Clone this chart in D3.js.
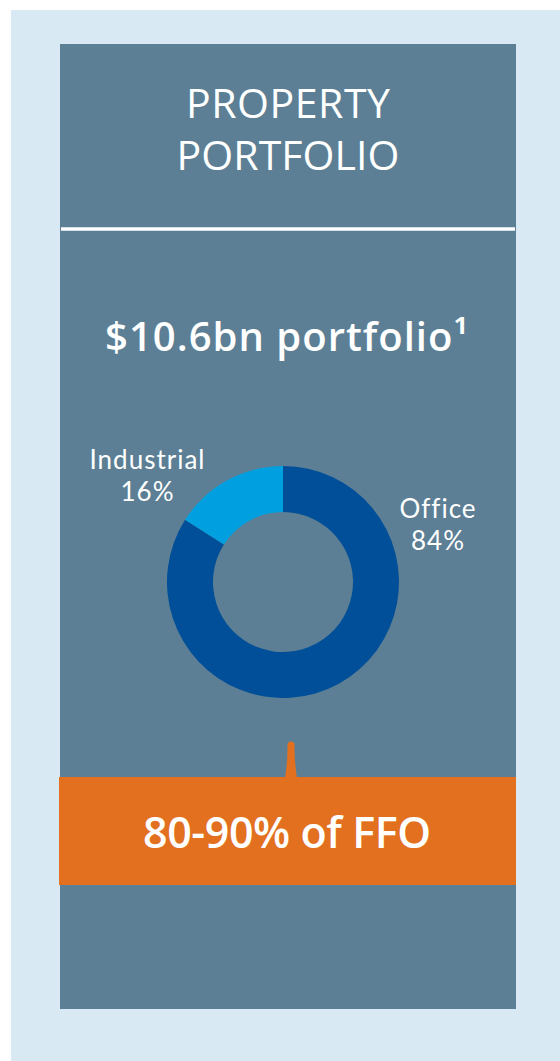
<!DOCTYPE html>
<html>
<head>
<meta charset="utf-8">
<script src="https://cdn.jsdelivr.net/npm/d3@7"></script>
<style>
  body { margin: 0; background: #ffffff; }
  svg text { font-family: "Open Sans", "Noto Sans", sans-serif; fill: #ffffff; }
  svg text.slice-label { font-family: Lato, "Open Sans", sans-serif; }
</style>
</head>
<body>
<svg id="chart"></svg>
<script>
// data
var categories = ["Office", "Industrial"];
var shares = [84, 16];
var shareLabels = ["84%", "16%"];
var titleLines = ["PROPERTY", "PORTFOLIO"];
var headline = "$10.6bn portfolio\u00b9";
var callout = "80-90% of FFO";

var width = 560, height = 1061;
var colors = d3.scaleOrdinal().domain(categories).range(["#004f98", "#009fdf"]);

var svg = d3.select("#chart").attr("width", width).attr("height", height);

// backgrounds
svg.append("rect").attr("x", 11).attr("y", 10).attr("width", width - 11).attr("height", height - 10)
  .attr("fill", "#d8e9f3");
var panel = {x: 60, y: 44, w: 456, h: 965};
svg.append("rect").attr("x", panel.x).attr("y", panel.y).attr("width", panel.w).attr("height", panel.h)
  .attr("fill", "#5c7f95");

// title
var titleWidths = [204, 223];
var title = svg.append("g");
title.selectAll("text").data(titleLines).enter().append("text")
  .attr("x", 288)
  .attr("y", (d, i) => 118 + i * 52)
  .attr("text-anchor", "middle")
  .attr("font-size", 41)
  .attr("textLength", (d, i) => titleWidths[i])
  .attr("lengthAdjust", "spacing")
  .text(d => d);

svg.append("line").attr("x1", panel.x + 1).attr("x2", panel.x + panel.w - 1)
  .attr("y1", 229).attr("y2", 229)
  .attr("stroke", "#ffffff").attr("stroke-width", 3.5);

svg.append("text").attr("x", 286.5).attr("y", 351)
  .attr("text-anchor", "middle").attr("font-size", 40).attr("font-weight", 600)
  .attr("textLength", 363).attr("lengthAdjust", "spacing")
  .text(headline);

// donut
var cx = 283, cy = 582;
var pie = d3.pie().sort(null).value(d => d);
var arc = d3.arc().innerRadius(70).outerRadius(116);
var donut = svg.append("g").attr("transform", "translate(" + cx + "," + cy + ")");
donut.selectAll("path").data(pie(shares)).enter().append("path")
  .attr("d", arc)
  .attr("fill", (d, i) => colors(categories[i]));

// labels: one text per slice, two lines
var labelPos = [{x: 438, y: 518}, {x: 147.5, y: 469}];
var labels = svg.append("g");
categories.forEach(function (c, i) {
  var p = labelPos[i];
  var t = labels.append("text")
    .attr("class", "slice-label")
    .attr("x", p.x).attr("y", p.y)
    .attr("text-anchor", "middle").attr("font-size", 26)
    .attr("letter-spacing", 1);
  t.append("tspan").attr("x", p.x).text(c);
  t.append("tspan").attr("x", p.x).attr("dy", 32).text(shareLabels[i]);
});

// callout box
var box = {x: 59, y: 777, w: 457, h: 108};
var tipX = 291;
svg.append("path")
  .attr("d", "M" + (tipX - 6) + "," + (box.y + 1) +
    " C" + (tipX - 4) + "," + (box.y - 12) + " " + (tipX - 3.5) + "," + (box.y - 22) + " " + (tipX - 3.5) + "," + (box.y - 32) +
    " A3.5,3.5 0 0 1 " + (tipX + 3.5) + "," + (box.y - 32) +
    " C" + (tipX + 3.5) + "," + (box.y - 22) + " " + (tipX + 4) + "," + (box.y - 12) + " " + (tipX + 6) + "," + (box.y + 1) + " Z")
  .attr("fill", "#e2701f");
svg.append("rect").attr("x", box.x).attr("y", box.y).attr("width", box.w).attr("height", box.h)
  .attr("fill", "#e2701f");
svg.append("text").attr("x", 287).attr("y", 848)
  .attr("text-anchor", "middle").attr("font-size", 43).attr("font-weight", 600)
  .attr("textLength", 288).attr("lengthAdjust", "spacing")
  .text(callout);
</script>
</body>
</html>
